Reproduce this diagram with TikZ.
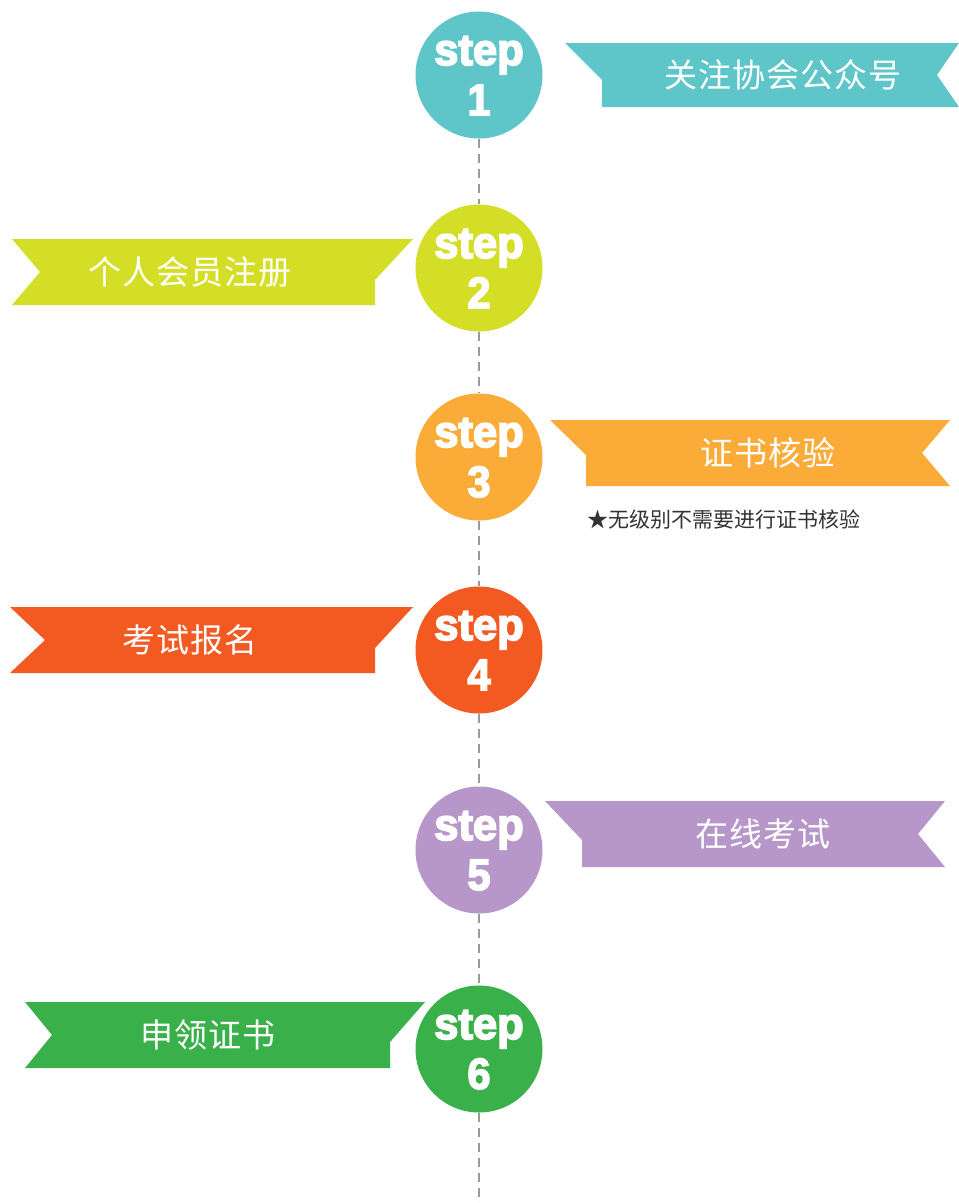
\documentclass[tikz,border=0pt]{standalone}
\usepackage{fontspec}
\newfontfamily\cjk{Noto Sans CJK SC}
\newfontfamily\cjkls[LetterSpace=3]{Noto Sans CJK SC}
\newfontfamily\stepfont{Liberation Sans}
\definecolor{cteal}{HTML}{5EC5C9}
\definecolor{clime}{HTML}{D4DE26}
\definecolor{corange}{HTML}{FBAB38}
\definecolor{cred}{HTML}{F25A22}
\definecolor{cpurple}{HTML}{B796C9}
\definecolor{cgreen}{HTML}{3AB04A}
\definecolor{cline}{HTML}{9A9A9A}
\definecolor{cnote}{HTML}{333333}
\newcommand{\heavytext}[1]{\special{pdf:literal direct 2 Tr 1.5 w}#1\special{pdf:literal direct 0 Tr}}
\begin{document}
\begin{tikzpicture}[x=1pt,y=-1pt,
  stepcircle/.style={circle, minimum size=127pt, inner sep=0pt},
  steplabel/.style={text=white, anchor=base, inner sep=0pt, font=\stepfont\bfseries\fontsize{38.5}{38.5}\selectfont},
  stepnum/.style={text=white, anchor=base, inner sep=0pt, font=\stepfont\bfseries\fontsize{44}{44}\selectfont},
  ribbontext/.style={text=white, inner sep=0pt, font=\cjkls\fontsize{33}{33}\selectfont},
  timeline/.style={draw=cline, line width=2pt, dash pattern=on 9pt off 6pt},
  notetext/.style={text=cnote, inner sep=0pt, anchor=west, font=\cjk\fontsize{21}{21}\selectfont}]
\useasboundingbox (0,0) rectangle (959,1203);
\fill[white] (0,0) rectangle (959,1203);

% step circles
\node[stepcircle, fill=cteal]   (s1) at (479,75) {};
\node[stepcircle, fill=clime]   (s2) at (479,268) {};
\node[stepcircle, fill=corange] (s3) at (479,457) {};
\node[stepcircle, fill=cred]    (s4) at (479,650) {};
\node[stepcircle, fill=cpurple] (s5) at (479,850) {};
\node[stepcircle, fill=cgreen]  (s6) at (479,1049) {};
\coordinate (end) at (479,1203);

% timeline
\draw[timeline] (s1) -- (s2);
\draw[timeline] (s2) -- (s3);
\draw[timeline] (s3) -- (s4);
\draw[timeline] (s4) -- (s5);
\draw[timeline] (s5) -- (s6);
\draw[timeline] (s6) -- (end);

% step labels
\foreach \n/\yy in {1/75,2/268,3/457,4/650,5/850,6/1049}{
  \node[steplabel] (st\n) at (479,\yy-10) {\scalebox{1.13}[1.15]{\heavytext{step}}};
  \node[stepnum] (sn\n) at (479,\yy+40) {\scalebox{0.95}[1]{\heavytext{\n}}};
}

% ribbons
\fill[cteal]   (565,43) -- (959,43) -- (937,75) -- (959,107) -- (602,107) -- (602,80) -- cycle;
\fill[clime]   (12,239) -- (413,239) -- (375,280) -- (375,305) -- (12,305) -- (40,272) -- cycle;
\fill[corange] (550,420) -- (950,420) -- (922,453) -- (950,486) -- (586,486) -- (586,455) -- cycle;
\fill[cred]    (10,607) -- (413,607) -- (375,648) -- (375,673) -- (10,673) -- (45,640) -- cycle;
\fill[cpurple] (545,801) -- (945,801) -- (918,834) -- (945,867) -- (582,867) -- (582,840) -- cycle;
\fill[cgreen]  (25,1002) -- (425,1002) -- (390,1042) -- (390,1068) -- (25,1068) -- (52,1035) -- cycle;

% ribbon texts
\node[ribbontext] (r1) at (783,75) {关注协会公众号};
\node[ribbontext] (r2) at (190,272) {个人会员注册};
\node[ribbontext] (r3) at (768,453) {证书核验};
\node[ribbontext] (r4) at (190,640) {考试报名};
\node[ribbontext] (r5) at (763,834) {在线考试};
\node[ribbontext] (r6) at (208,1035) {申领证书};

% note
\node[notetext] (note) at (587,519) {★无级别不需要进行证书核验};
\end{tikzpicture}
\end{document}
